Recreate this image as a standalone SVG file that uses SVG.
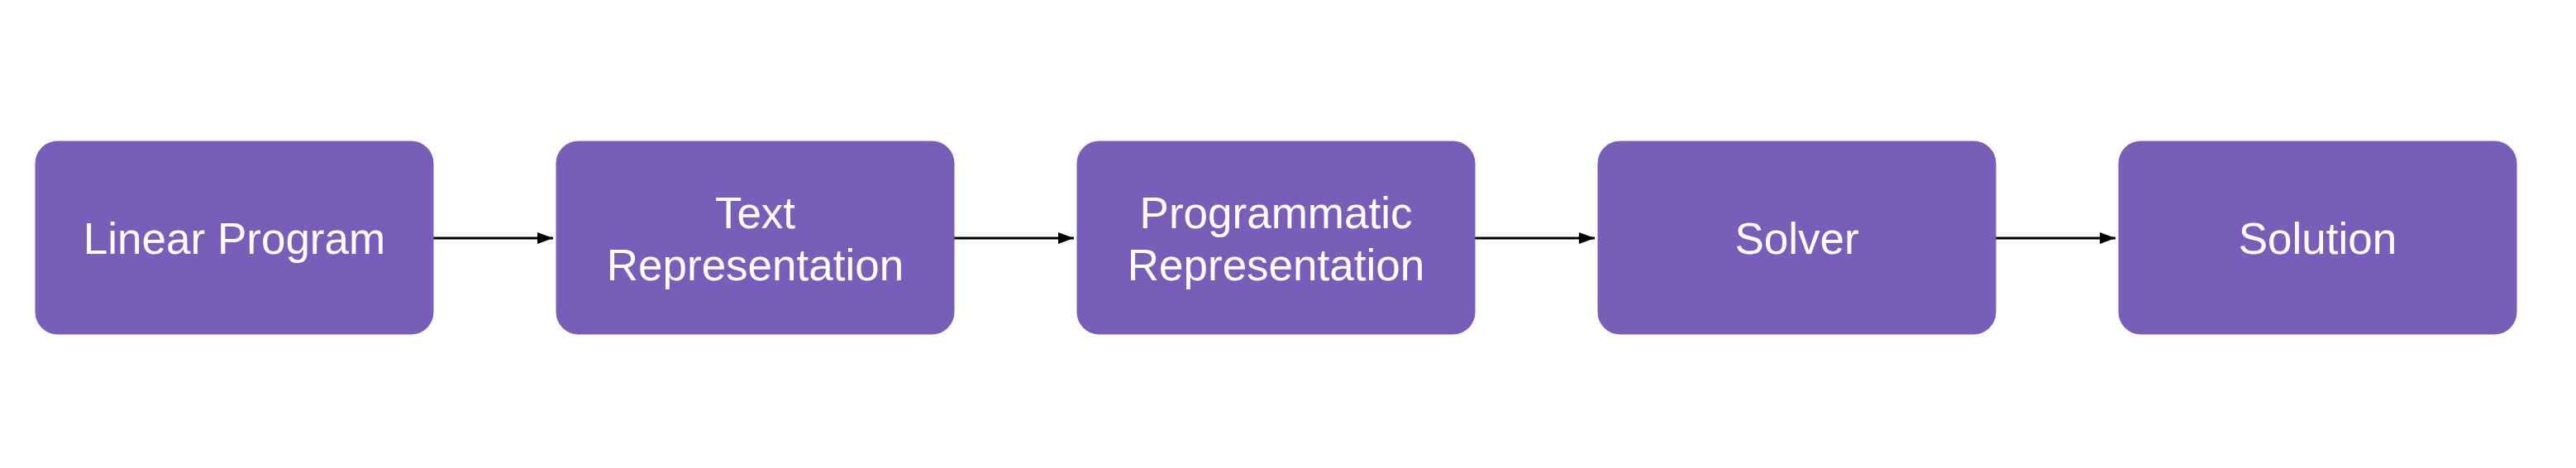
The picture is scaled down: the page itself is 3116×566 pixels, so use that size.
<svg xmlns="http://www.w3.org/2000/svg" width="3116" height="566" viewBox="0 0 3116 566">
<style>
.box{fill:#785DB9;}
.lbl{fill:#FFFFFF;font-family:"Liberation Sans",Arial,sans-serif;font-size:53px;text-anchor:middle;}
.conn{stroke:#000000;stroke-width:3;fill:none;}
</style>
<defs>
<marker id="arr" markerUnits="userSpaceOnUse" markerWidth="20" markerHeight="16" refX="19" refY="7" orient="auto">
<path d="M0,0 L19,7 L0,14 Z" fill="#000000"/>
</marker>
</defs>
<rect width="3116" height="566" fill="#FFFFFF"/>
<g id="connectors">
<line class="conn" x1="524" y1="288" x2="669" y2="288" marker-end="url(#arr)"/>
<line class="conn" x1="1154" y1="288" x2="1299" y2="288" marker-end="url(#arr)"/>
<line class="conn" x1="1784" y1="288" x2="1929" y2="288" marker-end="url(#arr)"/>
<line class="conn" x1="2414" y1="288" x2="2559" y2="288" marker-end="url(#arr)"/>
</g>
<g id="node-linear-program">
<rect class="box" x="42.5" y="170.5" width="482" height="234" rx="27" ry="27"/>
<text class="lbl" x="283.5" y="307">Linear Program</text>
</g>
<g id="node-text-representation">
<rect class="box" x="672.5" y="170.5" width="482" height="234" rx="27" ry="27"/>
<text class="lbl" x="913.5" y="276">Text</text>
<text class="lbl" x="913.5" y="339">Representation</text>
</g>
<g id="node-programmatic-representation">
<rect class="box" x="1302.5" y="170.5" width="482" height="234" rx="27" ry="27"/>
<text class="lbl" x="1543.5" y="276">Programmatic</text>
<text class="lbl" x="1543.5" y="339">Representation</text>
</g>
<g id="node-solver">
<rect class="box" x="1932.5" y="170.5" width="482" height="234" rx="27" ry="27"/>
<text class="lbl" x="2173.5" y="307">Solver</text>
</g>
<g id="node-solution">
<rect class="box" x="2562.5" y="170.5" width="482" height="234" rx="27" ry="27"/>
<text class="lbl" x="2803.5" y="307">Solution</text>
</g>
</svg>
